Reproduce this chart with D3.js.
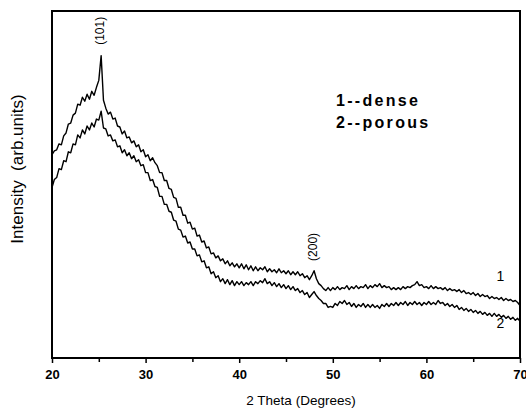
<!DOCTYPE html>
<html>
<head>
<meta charset="utf-8">
<script src="https://cdn.jsdelivr.net/npm/d3@7"></script>
<style>
  body { margin: 0; background: #fff; }
  text { font-family: Arial, "Liberation Sans", sans-serif; fill: #000; }
</style>
</head>
<body>
<svg id="chart" width="526" height="411"></svg>
<script>
// 2 theta sampling (degrees), one reading every 0.25 deg
const thetaStart = 20, thetaStep = 0.25;

// curve 1 -- dense film (arb. units)
const dense = [
  205, 209, 210, 216, 215, 224, 227, 236, 237, 245,
  247, 256, 255, 263, 259, 266, 261, 269, 265, 273,
  280, 305, 260, 252, 246, 248, 241, 242, 234, 233,
  226, 229, 222, 223, 217, 219, 213, 215, 208, 210,
  203, 205, 199, 202, 197, 194, 187, 187, 179, 179,
  171, 170, 162, 161, 152, 152, 144, 144, 136, 137,
  130, 131, 123, 124, 117, 118, 111, 112, 105, 106,
  101, 103, 98, 100, 95, 98, 93, 96, 92, 95,
  91, 95, 90, 94, 89, 93, 88, 92, 88, 91,
  89, 92, 87, 90, 87, 89, 86, 90, 86, 88,
  85, 88, 84, 87, 84, 87, 83, 85, 81, 83,
  79, 83, 88, 80, 75, 73, 70, 68, 71, 68,
  71, 69, 72, 69, 71, 70, 73, 69, 72, 70,
  73, 70, 72, 71, 74, 70, 73, 71, 74, 72,
  75, 71, 73, 71, 72, 69, 71, 69, 71, 69,
  72, 70, 72, 71, 73, 74, 77, 73, 74, 71,
  72, 70, 73, 70, 72, 70, 71, 69, 71, 68,
  70, 68, 69, 67, 69, 66, 68, 65, 66, 64,
  66, 63, 65, 62, 64, 62, 63, 60, 62, 60,
  61, 59, 61, 58, 60, 58, 59, 57, 58, 56,
  53
];

// curve 2 -- porous film (arb. units)
const porous = [
  172, 180, 182, 191, 190, 199, 198, 208, 207, 216,
  215, 225, 222, 230, 226, 234, 230, 237, 233, 241,
  240, 249, 232, 231, 224, 225, 219, 220, 213, 214,
  207, 210, 204, 207, 201, 204, 198, 200, 194, 195,
  187, 187, 179, 180, 173, 172, 163, 163, 155, 155,
  148, 147, 139, 138, 130, 129, 122, 123, 116, 117,
  110, 110, 103, 104, 97, 98, 91, 92, 85, 87,
  81, 83, 77, 80, 75, 79, 74, 78, 73, 77,
  74, 77, 73, 76, 74, 77, 73, 77, 75, 78,
  76, 80, 75, 77, 73, 76, 72, 75, 71, 74,
  70, 73, 69, 72, 68, 70, 66, 68, 64, 66,
  61, 64, 67, 63, 60, 58, 55, 55, 51, 52,
  51, 55, 53, 57, 55, 58, 54, 56, 52, 55,
  51, 54, 52, 55, 51, 54, 51, 54, 51, 53,
  50, 54, 52, 55, 52, 55, 53, 56, 53, 56,
  54, 57, 53, 56, 54, 57, 54, 56, 53, 56,
  54, 57, 54, 56, 54, 58, 55, 56, 53, 55,
  52, 54, 51, 53, 49, 51, 48, 50, 47, 49,
  46, 48, 45, 47, 44, 46, 43, 45, 42, 45,
  42, 44, 41, 43, 40, 42, 39, 41, 38, 40,
  37
];

const xTicks = [20, 30, 40, 50, 60, 70];
const xMinorTicks = [25, 35, 45, 55, 65];
const legendLines = ['1--dense', '2--porous'];
const peakLabels = [{label: '(101)', theta: 25.25, value: 330}, {label: '(200)', theta: 48.0, value: 112}];
const curveLabels = [{label: '1', theta: 67.5, value: 78}, {label: '2', theta: 67.5, value: 30}];

const svg = d3.select('#chart');
const margin = {left: 52, right: 6, top: 11, bottom: 53};
const width = 526 - margin.left - margin.right;
const height = 411 - margin.top - margin.bottom;

const x = d3.scaleLinear().domain([20, 70]).range([margin.left, margin.left + width]);
const y = d3.scaleLinear().domain([0, 350]).range([margin.top + height, margin.top]);

const series = [dense, porous].map(vals => vals.map((v, i) => ({t: thetaStart + i * thetaStep, v: v})));

const line = d3.line().x(d => x(d.t)).y(d => y(d.v));

// curves
svg.append('g').selectAll('path')
    .data(series)
    .join('path')
    .attr('d', line)
    .attr('fill', 'none')
    .attr('stroke', '#000')
    .attr('stroke-width', 1.4)
    .attr('stroke-linejoin', 'round');

// frame
svg.append('rect')
    .attr('x', margin.left)
    .attr('y', margin.top)
    .attr('width', width)
    .attr('height', height)
    .attr('fill', 'none')
    .attr('stroke', '#000')
    .attr('stroke-width', 2);

// x axis, major ticks with labels
const xAxis = svg.append('g')
    .attr('transform', 'translate(0,' + (margin.top + height) + ')')
    .call(d3.axisBottom(x).tickValues(xTicks).tickSize(5).tickPadding(7).tickFormat(d3.format('d')));
xAxis.select('.domain').remove();
xAxis.selectAll('line').attr('stroke-width', 1.5);
xAxis.selectAll('text')
    .style('font-family', 'Arial, "Liberation Sans", sans-serif')
    .style('font-size', '13px')
    .style('font-weight', 'bold');

// minor ticks
const xMinor = svg.append('g')
    .attr('transform', 'translate(0,' + (margin.top + height) + ')')
    .call(d3.axisBottom(x).tickValues(xMinorTicks).tickSize(4).tickFormat(''));
xMinor.select('.domain').remove();
xMinor.selectAll('line').attr('stroke-width', 1.5);

// axis titles
svg.append('text')
    .attr('x', 301)
    .attr('y', 405)
    .attr('text-anchor', 'middle')
    .style('font-size', '13.5px')
    .text('2 Theta (Degrees)');

svg.append('text')
    .attr('transform', 'translate(23,169) rotate(-90)')
    .attr('text-anchor', 'middle')
    .style('font-size', '17px')
    .style('white-space', 'pre')
    .text('Intensity  (arb.units)');

// peak labels (rotated)
svg.append('g').selectAll('text')
    .data(peakLabels)
    .join('text')
    .attr('transform', d => 'translate(' + (x(d.theta) + 3) + ',' + y(d.value) + ') rotate(-90)')
    .attr('text-anchor', 'middle')
    .style('font-size', '12px')
    .text(d => d.label);

// curve number labels
svg.append('g').selectAll('text')
    .data(curveLabels)
    .join('text')
    .attr('x', d => x(d.theta))
    .attr('y', d => y(d.value))
    .style('font-size', '14px')
    .text(d => d.label);

// legend text
svg.append('g').selectAll('text')
    .data(legendLines)
    .join('text')
    .attr('x', 336)
    .attr('y', (d, i) => 106 + i * 22)
    .style('font-size', '16px')
    .style('font-weight', 'bold')
    .style('letter-spacing', '2.3px')
    .text(d => d);
</script>
</body>
</html>
